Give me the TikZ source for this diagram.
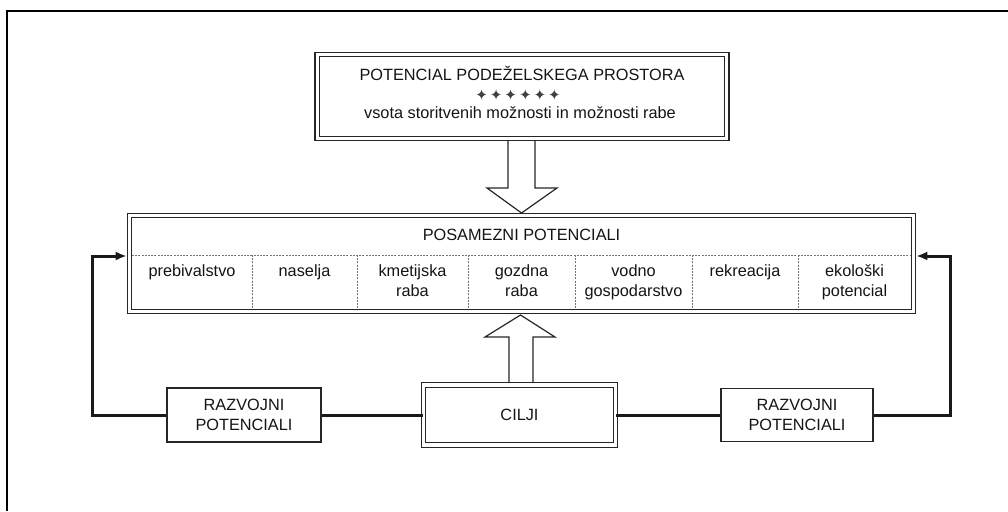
\documentclass[tikz,border=0pt]{standalone}
\usepackage{fontspec}
\setmainfont{Liberation Sans}
\newfontfamily\symfont{DejaVu Sans}
\usetikzlibrary{arrows.meta,calc}
\begin{document}
\begin{tikzpicture}[x=1pt,y=-1pt,
  dbox/.style={draw=black!85, line width=1.2pt, double=white, double distance=3.4pt, inner sep=0pt},
  sbox/.style={draw=black!85, line width=1.2pt, inner sep=0pt},
  lbl/.style={font=\fontsize{16.3}{20}\selectfont, text=black!92, align=center, inner sep=0pt},
  conn/.style={line width=3pt, draw=black!90},
  tip/.style={-{Latex[length=11pt,width=9pt]}, shorten >=2.2pt},
  divider/.style={draw=black!55, line width=0.8pt, dash pattern=on 2pt off 1.2pt},
  hollow/.style={draw=black!85, line width=1.2pt, line join=miter}]

\useasboundingbox (0,0) rectangle (1008,511);
% outer frame
\draw[line width=2.8pt] (7,511) -- (7,11) -- (1008,11);

% top box
\node[dbox, minimum width=409.5pt, minimum height=84pt] (top) at (522,96.5) {};
\node[lbl, anchor=base] (t1) at (522,81) {POTENCIAL PODEŽELSKEGA PROSTORA};
\node[lbl, font=\symfont\fontsize{15}{15}\selectfont, text=black!75] (t2) at (518,95) {✦\hspace{2pt}✦\hspace{2pt}✦\hspace{2pt}✦\hspace{2pt}✦\hspace{2pt}✦};
\node[lbl, anchor=base] (t3) at (520,118) {vsota storitvenih možnosti in možnosti rabe};

% down hollow arrow
\draw[hollow] (508,141) -- (508,188) -- (487,188) -- (521.5,213) -- (557,188) -- (535,188) -- (535,141);

% middle box
\node[dbox, minimum width=784pt, minimum height=96pt] (mid) at (521.5,263.5) {};
\node[lbl, anchor=base] (midtitle) at (521.5,240) {POSAMEZNI POTENCIALI};
\draw[divider] (132,255) -- (911,255);
\foreach \xx in {252,357,468,575,692,798} {
  \draw[divider] (\xx,255) -- (\xx,309);
}
\node[lbl, anchor=base] (c1) at (192,276) {prebivalstvo};
\node[lbl, anchor=base] (c2) at (304.5,276) {naselja};
\node[lbl, anchor=base] (c3) at (412.5,296) {kmetijska\\raba};
\node[lbl, anchor=base] (c4) at (521.5,296) {gozdna\\raba};
\node[lbl, anchor=base] (c5) at (633.5,296) {vodno\\gospodarstvo};
\node[lbl, anchor=base] (c6) at (745,276) {rekreacija};
\node[lbl, anchor=base] (c7) at (854.5,296) {ekološki\\potencial};

% up hollow arrow
\draw[hollow] (509,383) -- (509,337) -- (485,337) -- (520.5,315) -- (555,337) -- (533,337) -- (533,383);

% bottom boxes
\node[dbox, lbl, minimum width=192pt, minimum height=60pt] (cilji) at (519.5,415) {CILJI};
\node[sbox, lbl, minimum width=154pt, minimum height=54pt] (rl) at (244,415) {RAZVOJNI\\POTENCIALI};
\node[sbox, lbl, minimum width=152pt, minimum height=53pt] (rr) at (797,415) {RAZVOJNI\\POTENCIALI};

% connectors
\coordinate (lbend) at (92,256);
\coordinate (rbend) at (950,256);
\draw[conn] (cilji.west) -- (rl.east);
\draw[conn] (cilji.east) -- (rr.west);
\draw[conn, tip] (rl.west) -| (lbend) -- (mid.west |- lbend);
\draw[conn, tip] (rr.east) -| (rbend) -- (mid.east |- rbend);
\end{tikzpicture}
\end{document}
